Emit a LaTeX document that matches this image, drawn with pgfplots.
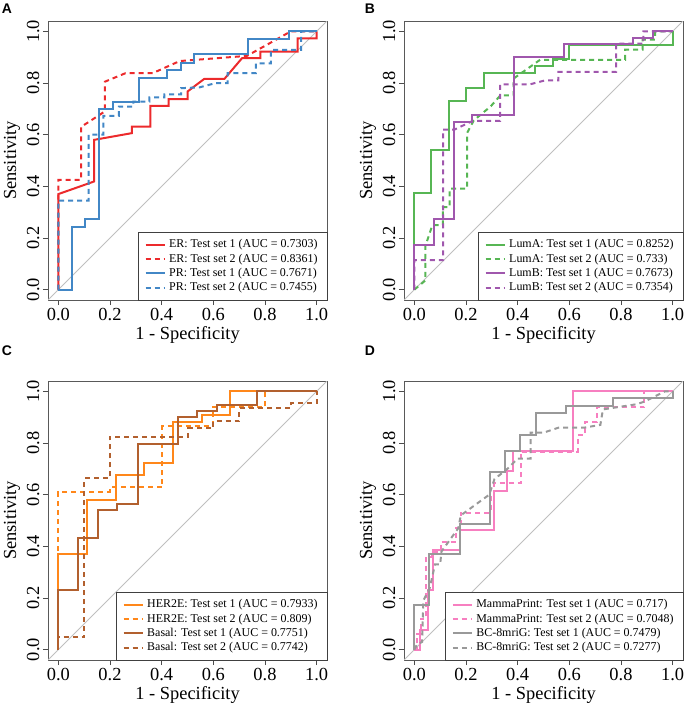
\documentclass[border=0pt]{standalone}
\usepackage{fontspec}
\setmainfont{Liberation Serif}
\newfontfamily\labfont{Liberation Sans}
\usepackage{pgfplots}
\pgfplotsset{compat=1.18}
\definecolor{cRed}{HTML}{EC2A2C}
\definecolor{cBlue}{HTML}{4287C6}
\definecolor{cGreen}{HTML}{57B654}
\definecolor{cPurple}{HTML}{A057AD}
\definecolor{cOrange}{HTML}{FF871A}
\definecolor{cBrown}{HTML}{B2602E}
\definecolor{cPink}{HTML}{F77FC0}
\definecolor{cGray}{HTML}{999999}
\pgfplotsset{
  roc/.style={
    scale only axis, width=279bp, height=279bp,
    xmin=-0.04, xmax=1.04, ymin=-0.04, ymax=1.04,
    xtick={0,0.2,0.4,0.6,0.8,1}, ytick={0,0.2,0.4,0.6,0.8,1},
    tick pos=left, tick align=outside, major tick length=5bp,
    tick style={black!70, line width=0.8bp},
    axis line style={black!65, line width=1bp},
    /pgf/number format/.cd, fixed, fixed zerofill, precision=1, assume math mode=true, /pgfplots/.cd,
    tick label style={font=\fontsize{18.5}{20}\selectfont},
    yticklabel style={rotate=90, anchor=south},
    xlabel={1 - Specificity}, ylabel={Sensitivity},
    label style={font=\fontsize{18.5}{20}\selectfont},
    xlabel style={at={(axis description cs:0.5,-0.125)}, anchor=center},
    ylabel style={at={(axis description cs:-0.129,0.5)}, anchor=center},
    legend cell align=left,
    legend style={at={(rel axis cs:1,0)}, anchor=south east, draw=black!75, line width=0.8bp,
      outer sep=0pt,
      font=\fontsize{12}{13}\selectfont, inner xsep=6bp, inner ysep=5bp,
      nodes={inner xsep=3.5bp, inner ysep=1.2bp, text height=9bp, text depth=3bp}},
    legend image code/.code={\draw[#1] (0bp,0bp) -- (19bp,0bp);},
  },
  sol/.style={line width=2bp, solid},
  dsh/.style={line width=2bp, dash pattern=on 5bp off 4bp},
}
\begin{document}
\begin{tikzpicture}
\useasboundingbox (0,0) rectangle (685bp,-705bp);
\node[font=\labfont\bfseries\fontsize{14}{16}\selectfont] at (7bp,-9bp) {A};
\node[font=\labfont\bfseries\fontsize{14}{16}\selectfont] at (370bp,-9bp) {B};
\node[font=\labfont\bfseries\fontsize{14}{16}\selectfont] at (7bp,-351bp) {C};
\node[font=\labfont\bfseries\fontsize{14}{16}\selectfont] at (370bp,-351bp) {D};
% Panel A
\begin{axis}[roc, at={(48bp,-300bp)}, anchor=south west]
\addplot[color=black!25, line width=1bp, forget plot] coordinates {(-0.04,-0.04) (1.04,1.04)};
\addplot[color=cRed, sol] coordinates {(0,0)(0,0.37)(0.139,0.419)(0.139,0.58)(0.285,0.606)(0.285,0.631)(0.356,0.631)(0.356,0.711)(0.427,0.711)(0.427,0.738)(0.5,0.738)(0.5,0.767)(0.565,0.816)(0.643,0.816)(0.711,0.896)(0.782,0.896)(0.782,0.921)(0.926,0.921)(0.926,0.973)(1,0.973)(1,1)};
\addlegendentry{ER: Test set 1 (AUC = 0.7303)}
\addplot[color=cRed, dsh] coordinates {(0,0)(0,0.425)(0.088,0.425)(0.088,0.63)(0.18,0.69)(0.18,0.805)(0.26,0.838)(0.365,0.838)(0.47,0.885)(0.73,0.905)(0.82,0.955)(0.9,1.0)(1,1)};
\addlegendentry{ER: Test set 2 (AUC = 0.8361)}
\addplot[color=cBlue, sol] coordinates {(0,0)(0.052,0)(0.052,0.242)(0.103,0.242)(0.103,0.273)(0.159,0.273)(0.159,0.698)(0.21,0.698)(0.21,0.728)(0.314,0.728)(0.314,0.818)(0.421,0.818)(0.421,0.85)(0.475,0.85)(0.475,0.879)(0.526,0.879)(0.526,0.911)(0.735,0.911)(0.735,0.969)(0.894,0.969)(0.894,1)(1,1)};
\addlegendentry{PR: Test set 1 (AUC = 0.7671)}
\addplot[color=cBlue, dsh] coordinates {(0,0)(0,0.345)(0.117,0.345)(0.117,0.6)(0.174,0.6)(0.174,0.673)(0.234,0.673)(0.234,0.709)(0.29,0.709)(0.29,0.728)(0.352,0.728)(0.352,0.744)(0.41,0.744)(0.41,0.756)(0.475,0.756)(0.475,0.78)(0.546,0.783)(0.61,0.80)(0.655,0.80)(0.655,0.838)(0.765,0.838)(0.765,0.876)(0.823,0.876)(0.823,0.928)(0.94,0.928)(0.94,1)(1,1)};
\addlegendentry{PR: Test set 2 (AUC = 0.7455)}
\end{axis}
% Panel B
\begin{axis}[roc, at={(404bp,-300bp)}, anchor=south west]
\addplot[color=black!25, line width=1bp, forget plot] coordinates {(-0.04,-0.04) (1.04,1.04)};
\addplot[color=cGreen, sol] coordinates {(0,0)(0,0.375)(0.066,0.375)(0.066,0.539)(0.133,0.539)(0.133,0.73)(0.201,0.73)(0.201,0.782)(0.268,0.782)(0.268,0.839)(0.468,0.839)(0.468,0.866)(0.535,0.866)(0.535,0.894)(0.6,0.894)(0.6,0.946)(1,0.946)(1,1)};
\addlegendentry{LumA: Test set 1 (AUC = 0.8252)}
\addplot[color=cGreen, dsh] coordinates {(0,0)(0.043,0.036)(0.043,0.17)(0.07,0.25)(0.11,0.25)(0.11,0.32)(0.137,0.32)(0.137,0.391)(0.204,0.391)(0.204,0.606)(0.23,0.655)(0.296,0.71)(0.333,0.752)(0.384,0.752)(0.384,0.817)(0.487,0.89)(0.816,0.89)(0.816,0.929)(0.884,0.929)(0.884,0.968)(0.932,0.968)(0.932,1)(1,1)};
\addlegendentry{LumA: Test set 2 (AUC = 0.733)}
\addplot[color=cPurple, sol] coordinates {(0,0)(0,0.174)(0.075,0.174)(0.075,0.275)(0.155,0.275)(0.155,0.649)(0.225,0.649)(0.225,0.675)(0.387,0.675)(0.387,0.9)(0.58,0.9)(0.58,0.952)(0.845,0.952)(0.845,0.975)(0.925,0.975)(0.925,1)(1,1)};
\addlegendentry{LumB: Test set 1 (AUC = 0.7673)}
\addplot[color=cPurple, dsh] coordinates {(0,0)(0,0.114)(0.111,0.114)(0.111,0.62)(0.156,0.62)(0.225,0.653)(0.332,0.653)(0.332,0.795)(0.448,0.795)(0.506,0.81)(0.558,0.81)(0.558,0.843)(0.781,0.843)(0.781,0.952)(0.887,0.952)(0.887,1)(1,1)};
\addlegendentry{LumB: Test set 2 (AUC = 0.7354)}
\end{axis}
% Panel C
\begin{axis}[roc, at={(48bp,-660bp)}, anchor=south west]
\addplot[color=black!25, line width=1bp, forget plot] coordinates {(-0.04,-0.04) (1.04,1.04)};
\addplot[color=cOrange, sol] coordinates {(0,0)(0,0.372)(0.112,0.372)(0.112,0.581)(0.222,0.581)(0.222,0.676)(0.333,0.676)(0.333,0.723)(0.445,0.723)(0.445,0.882)(0.555,0.882)(0.555,0.908)(0.665,0.908)(0.665,1)(1,1)};
\addlegendentry{HER2E: Test set 1 (AUC = 0.7933)}
\addplot[color=cOrange, dsh] coordinates {(0,0)(0,0.611)(0.2,0.611)(0.2,0.628)(0.403,0.628)(0.403,0.866)(0.597,0.866)(0.597,0.938)(0.8,0.938)(0.8,1)(1,1)};
\addlegendentry{HER2E: Test set 2 (AUC = 0.809)}
\addplot[color=cBrown, sol] coordinates {(0,0)(0,0.23)(0.077,0.23)(0.077,0.434)(0.155,0.434)(0.155,0.54)(0.228,0.54)(0.228,0.563)(0.307,0.563)(0.307,0.796)(0.462,0.796)(0.462,0.899)(0.535,0.899)(0.535,0.924)(0.613,0.924)(0.613,0.947)(0.768,0.947)(0.768,1)(1,1)};
\addlegendentry{Basal: Test set 1 (AUC = 0.7751)}
\addplot[color=cBrown, dsh] coordinates {(0,0)(0,0.049)(0.1,0.049)(0.1,0.663)(0.2,0.663)(0.2,0.824)(0.503,0.824)(0.503,0.857)(0.6,0.857)(0.6,0.885)(0.7,0.885)(0.7,0.934)(0.9,0.934)(0.9,0.953)(1,0.953)(1,1)};
\addlegendentry{Basal: Test set 2 (AUC = 0.7742)}
\end{axis}
% Panel D
\begin{axis}[roc, at={(404bp,-660bp)}, anchor=south west]
\addplot[color=black!25, line width=1bp, forget plot] coordinates {(-0.04,-0.04) (1.04,1.04)};
\addplot[color=cPink, sol] coordinates {(0,0)(0.023,0)(0.023,0.075)(0.052,0.075)(0.052,0.23)(0.074,0.23)(0.074,0.385)(0.177,0.385)(0.177,0.463)(0.31,0.463)(0.31,0.615)(0.357,0.615)(0.357,0.69)(0.383,0.69)(0.383,0.769)(0.613,0.769)(0.613,1)(1,1)};
\addlegendentry{MammaPrint: Test set 1 (AUC = 0.717)}
\addplot[color=cPink, dsh] coordinates {(0,0)(0.01,0)(0.01,0.06)(0.025,0.06)(0.025,0.12)(0.045,0.12)(0.045,0.36)(0.07,0.36)(0.07,0.38)(0.103,0.38)(0.103,0.417)(0.16,0.417)(0.16,0.47)(0.18,0.47)(0.18,0.53)(0.297,0.53)(0.297,0.59)(0.31,0.59)(0.31,0.645)(0.413,0.645)(0.413,0.766)(0.632,0.766)(0.632,0.83)(0.66,0.83)(0.66,0.88)(0.706,0.88)(0.706,0.94)(0.89,0.94)(0.89,1)(1,1)};
\addlegendentry{MammaPrint: Test set 2 (AUC = 0.7048)}
\addplot[color=cGray, sol] coordinates {(0,0)(0,0.172)(0.055,0.172)(0.055,0.372)(0.177,0.372)(0.177,0.488)(0.294,0.488)(0.294,0.689)(0.351,0.689)(0.351,0.769)(0.41,0.769)(0.41,0.83)(0.471,0.83)(0.471,0.915)(0.587,0.915)(0.587,0.944)(0.768,0.944)(0.768,0.973)(1,0.973)(1,1)};
\addlegendentry{BC-8mriG: Test set 1 (AUC = 0.7479)}
\addplot[color=cGray, dsh] coordinates {(0,0)(0.01,0.02)(0.03,0.03)(0.035,0.19)(0.06,0.24)(0.08,0.33)(0.1,0.33)(0.105,0.38)(0.17,0.47)(0.18,0.52)(0.29,0.6)(0.31,0.66)(0.36,0.7)(0.4,0.74)(0.45,0.74)(0.45,0.84)(0.5,0.84)(0.56,0.86)(0.66,0.86)(0.72,0.87)(0.73,0.93)(0.86,0.95)(0.89,0.96)(0.97,1.0)(1,1)};
\addlegendentry{BC-8mriG: Test set 2 (AUC = 0.7277)}
\end{axis}
\end{tikzpicture}
\end{document}
